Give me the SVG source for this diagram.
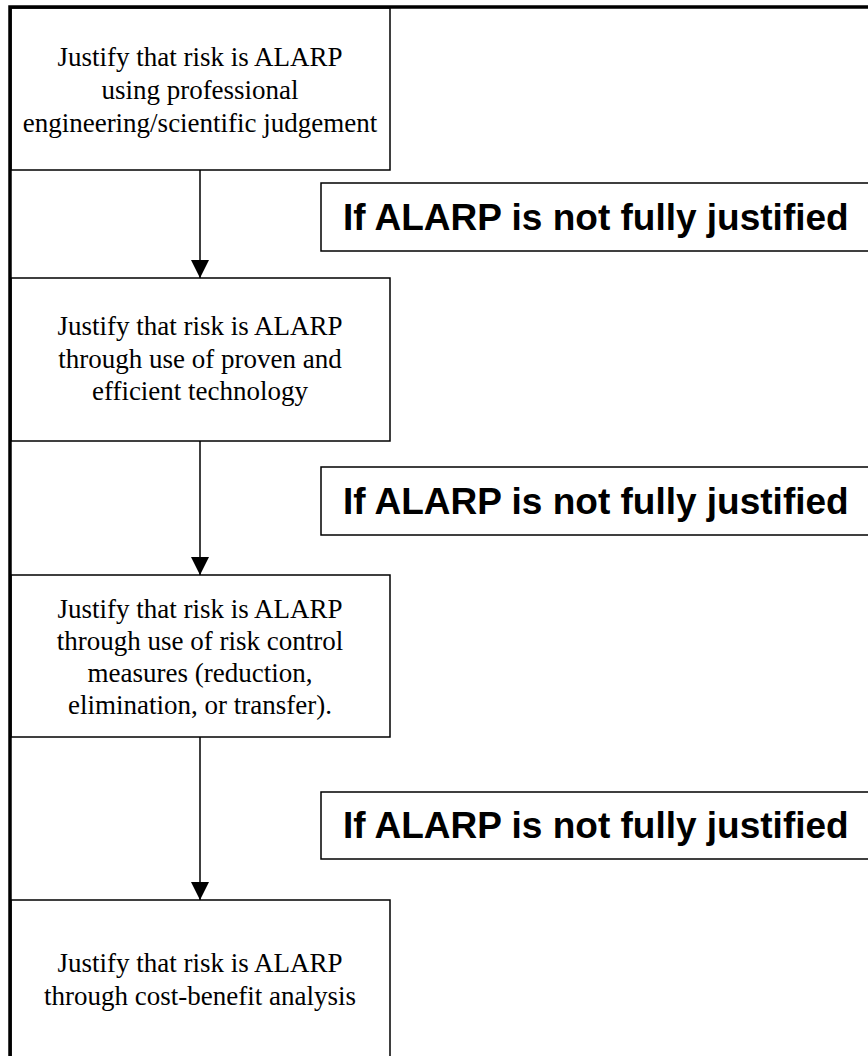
<svg xmlns="http://www.w3.org/2000/svg" width="868" height="1056" viewBox="0 0 868 1056">
  <style>
    .frame { fill: none; stroke: #000; stroke-width: 3.5; }
    .step { fill: #fff; stroke: #000; stroke-width: 1.5; }
    .cond { fill: #fff; stroke: #000; stroke-width: 1.5; }
    .step-text { font-family: "Liberation Serif", "Times New Roman", serif; font-size: 27px; fill: #000; text-anchor: middle; }
    .cond-text { font-family: "Liberation Sans", Arial, sans-serif; font-size: 37px; font-weight: bold; fill: #000; }
    .link { fill: none; stroke: #000; stroke-width: 1.5; }
  </style>
  <defs>
    <marker id="arrow" markerWidth="18" markerHeight="18" refX="18" refY="9" orient="auto" markerUnits="userSpaceOnUse">
      <path d="M0,0 L18,9 L0,18 Z" fill="#000"/>
    </marker>
  </defs>

  <!-- condition labels (open on the right side) -->
  <g id="cond-1">
    <rect class="cond" x="321" y="183" width="560" height="68"/>
    <text class="cond-text" x="343" y="230">If ALARP is not fully justified</text>
  </g>
  <g id="cond-2">
    <rect class="cond" x="321" y="467" width="560" height="68"/>
    <text class="cond-text" x="343" y="514">If ALARP is not fully justified</text>
  </g>
  <g id="cond-3">
    <rect class="cond" x="321" y="792" width="560" height="67"/>
    <text class="cond-text" x="343" y="838">If ALARP is not fully justified</text>
  </g>

  <!-- justification steps -->
  <g id="step-1">
    <rect class="step" x="11" y="8" width="379" height="162"/>
    <text class="step-text" x="200" y="66">Justify that risk is ALARP</text>
    <text class="step-text" x="200" y="99">using professional</text>
    <text class="step-text" x="200" y="132">engineering/scientific judgement</text>
  </g>
  <g id="step-2">
    <rect class="step" x="11" y="278" width="379" height="163"/>
    <text class="step-text" x="200" y="335">Justify that risk is ALARP</text>
    <text class="step-text" x="200" y="368">through use of proven and</text>
    <text class="step-text" x="200" y="400">efficient technology</text>
  </g>
  <g id="step-3">
    <rect class="step" x="11" y="575" width="379" height="162"/>
    <text class="step-text" x="200" y="618">Justify that risk is ALARP</text>
    <text class="step-text" x="200" y="650">through use of risk control</text>
    <text class="step-text" x="200" y="682">measures (reduction,</text>
    <text class="step-text" x="200" y="714">elimination, or transfer).</text>
  </g>
  <g id="step-4">
    <rect class="step" x="11" y="900" width="379" height="170"/>
    <text class="step-text" x="200" y="972">Justify that risk is ALARP</text>
    <text class="step-text" x="200" y="1005">through cost-benefit analysis</text>
  </g>

  <!-- connectors -->
  <g id="connectors">
    <line class="link" x1="200" y1="170" x2="200" y2="278" marker-end="url(#arrow)"/>
    <line class="link" x1="200" y1="441" x2="200" y2="575" marker-end="url(#arrow)"/>
    <line class="link" x1="200" y1="737" x2="200" y2="900" marker-end="url(#arrow)"/>
  </g>

  <!-- page frame: heavy rule along the top and left -->
  <path class="frame" d="M10,1056 V7 H868"/>
</svg>
